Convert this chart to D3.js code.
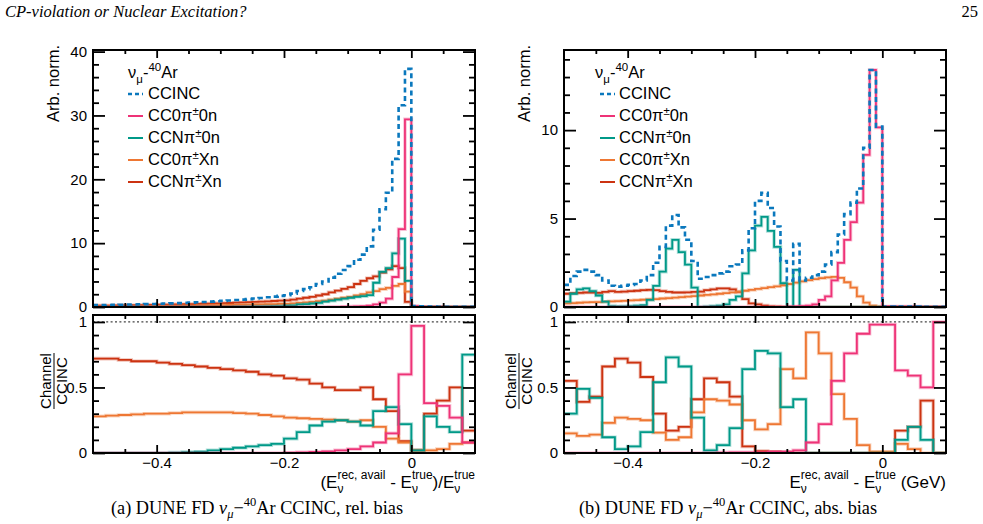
<!DOCTYPE html>
<html><head><meta charset="utf-8">
<script src="https://cdn.jsdelivr.net/npm/d3@7"></script>
<style>body{margin:0;background:#fff}svg{display:block}text{white-space:pre}</style>
</head><body>
<svg id="c" width="983" height="524"></svg>
<script>
// ---------------- DATA ----------------
// Top panels: 60 bins of width 0.01 from -0.5 to 0.1
const relCCINC = [0.30,0.31,0.32,0.34,0.36,0.38,0.40,0.42,0.45,0.48, 0.51,0.54,0.57,0.61,0.65,0.69,0.74,0.79,0.84,0.90, 0.96,1.02,1.09,1.16,1.24,1.33,1.42,1.52,1.63,1.75, 1.85,2.1,2.5,2.8,3.1,3.6,4.0,4.6,5.2,5.8, 6.4,7.4,8.2,9.5,12.1,15.3,17.9,23.2,31.6,37.3, 0.15,0.1,0.08,0.06,0.05,0.04,0.04,0.03,0.03,0.03];
const relCC0pi0n = [0,0,0,0,0,0,0,0,0,0, 0,0,0,0,0,0,0,0,0,0, 0,0,0,0,0,0,0,0,0,0, 0,0,0,0,0,0,0.01,0.02,0.03,0.05, 0.07,0.1,0.12,0.2,0.4,0.7,1.3,4.7,12.2,29.4, 0.14,0.04,0.03,0.02,0.015,0.01,0.01,0.01,0.005,0.003];
const relCCNpi0n = [0,0,0,0,0,0,0,0,0.003,0.004, 0.005,0.007,0.009,0.011,0.013,0.015,0.018,0.021,0.025,0.028, 0.03,0.035,0.045,0.05,0.065,0.075,0.09,0.1,0.12,0.14, 0.2,0.24,0.4,0.45,0.55,0.65,0.85,1.0,1.15,1.3, 1.45,1.6,1.7,1.85,3.8,5.5,6.1,8.4,10.7,4.1, 0.003,0.002,0.01,0.01,0.008,0.006,0.005,0.004,0.02,0.02];
const relCC0piXn = [0.085,0.088,0.092,0.098,0.105,0.11,0.12,0.125,0.135,0.145, 0.158,0.167,0.177,0.19,0.2,0.214,0.228,0.244,0.26,0.277, 0.29,0.31,0.33,0.35,0.37,0.39,0.41,0.43,0.46,0.49, 0.5,0.56,0.66,0.73,0.8,0.92,1.0,1.15,1.3,1.45, 1.6,1.8,2.0,2.3,2.5,2.8,3.0,3.3,3.6,2.4, 0.003,0.003,0.002,0.002,0.002,0.002,0.002,0.002,0.002,0.002];
const relCCNpiXn = [0.22,0.22,0.23,0.24,0.25,0.27,0.28,0.29,0.31,0.33, 0.35,0.37,0.39,0.41,0.43,0.45,0.48,0.51,0.54,0.57, 0.60,0.63,0.67,0.71,0.75,0.79,0.84,0.89,0.94,1.0, 1.05,1.15,1.3,1.45,1.6,1.8,2.0,2.3,2.55,2.85, 3.1,3.6,4.1,4.5,4.8,5.4,5.9,6.4,6.1,0.8, 0.003,0.003,0.01,0.01,0.01,0.01,0.008,0.006,0.004,0.004];

const absCCINC = [1.25,1.75,2.0,2.1,2.0,1.8,1.5,1.2,1.15,1.2, 1.25,1.3,1.5,1.8,2.5,3.4,4.6,5.2,4.5,3.8, 2.6,1.6,1.7,1.8,1.9,2.0,2.3,2.4,3.2,4.45, 6.0,6.45,5.6,4.55,2.6,1.5,3.57,1.5,1.65,1.8, 2.0,2.4,3.1,4.1,5.25,5.9,6.7,9.0,13.4,10.2, 0.03,0.03,0.02,0.02,0.02,0.02,0.01,0.01,0.01,0.01];
const absCC0pi0n = [0,0,0,0,0,0,0,0,0,0, 0,0,0,0,0,0,0,0,0,0, 0,0,0,0,0,0,0,0,0,0, 0,0,0,0,0.01,0.02,0.03,0.05,0.08,0.15, 0.4,0.6,1.5,2.5,3.8,4.8,5.9,8.6,13.4,10.15, 0.03,0.03,0.02,0.02,0.02,0.02,0.01,0.01,0.01,0.01];
const absCCNpi0n = [0.3,0.75,1.0,1.05,0.9,0.65,0.3,0.05,0.03,0.04, 0.05,0.08,0.1,0.4,1.2,2.0,3.3,3.8,3.1,2.4, 1.1,0,0.02,0.05,0.08,0.15,0.4,0.6,1.9,3.2, 4.6,5.1,4.3,3.4,1.35,0,2.1,0,0,0, 0,0,0,0,0,0,0,0,0,0, 0,0,0,0,0,0,0,0,0,0];
const absCC0piXn = [0.2,0.22,0.24,0.26,0.27,0.28,0.3,0.32,0.33,0.35, 0.37,0.39,0.41,0.43,0.45,0.48,0.5,0.53,0.56,0.59, 0.62,0.65,0.68,0.71,0.75,0.79,0.83,0.87,0.92,0.97, 1.02,1.07,1.12,1.17,1.23,1.3,1.38,1.45,1.52,1.58, 1.63,1.67,1.7,1.65,1.4,1.1,0.6,0.25,0.07,0.02, 0,0,0,0,0,0,0,0,0,0];
const absCCNpiXn = [0.75,0.78,0.8,0.82,0.82,0.8,0.85,0.9,0.85,0.87, 0.9,0.92,0.95,0.97,0.95,0.9,0.85,0.82,0.82,0.83, 0.85,0.87,0.95,1.0,1.05,1.05,1.0,0.85,0.45,0.2, 0.15,0.08,0.04,0.02,0.01,0.01,0,0,0,0, 0,0,0,0,0,0,0,0,0,0, 0,0,0,0,0,0,0,0,0,0];

// Ratio panels: 30 bins of width 0.02 from -0.5 to 0.1
const relRatioCC0pi0n = [0,0,0,0,0,0,0,0,0,0, 0,0,0,0,0,0.002,0.005,0.008,0.012,0.02, 0.03,0.05,0.08,0.15,0.6,0.97,0.38,0.36,0.27,0.08];
const relRatioCCNpi0n = [0,0,0,0,0,0,0.003,0.007,0.01,0.02, 0.03,0.04,0.05,0.06,0.07,0.11,0.16,0.21,0.24,0.25, 0.24,0.21,0.32,0.35,0.22,0.02,0.28,0.2,0.16,0.75];
const relRatioCC0piXn = [0.28,0.285,0.29,0.295,0.30,0.30,0.305,0.31,0.31,0.31, 0.31,0.305,0.30,0.29,0.28,0.27,0.265,0.26,0.255,0.25, 0.24,0.25,0.2,0.11,0.08,0.02,0.02,0.03,0.07,0.08];
const relRatioCCNpiXn = [0.72,0.72,0.71,0.70,0.70,0.69,0.68,0.67,0.66,0.65, 0.64,0.63,0.62,0.60,0.59,0.57,0.56,0.53,0.50,0.48, 0.48,0.50,0.41,0.32,0.09,0.02,0.30,0.40,0.50,0.17];

const absRatioCC0pi0n = [0,0,0,0,0,0,0,0,0,0, 0,0,0.003,0.005,0.005,0.005,0.01,0.01,0.02,0.08, 0.22,0.55,0.76,0.91,0.98,0.98,0.63,0.59,0.5,1.0];
const absRatioCCNpi0n = [0.30,0.49,0.42,0.12,0.03,0.05,0.16,0.54,0.73,0.66, 0.27,0.02,0.06,0.19,0.64,0.78,0.76,0.35,0.41,0, 0,0,0,0,0,0,0.1,0.2,0.1,0];
const absRatioCC0piXn = [0.15,0.13,0.14,0.23,0.27,0.26,0.25,0.155,0.10,0.12, 0.31,0.41,0.40,0.37,0.25,0.18,0.22,0.64,0.57,0.92, 0.76,0.45,0.26,0.06,0.01,0.01,0.07,0.03,0,0];
const absRatioCCNpiXn = [0.55,0.39,0.43,0.66,0.72,0.69,0.58,0.30,0.17,0.20, 0.41,0.57,0.54,0.43,0.05,0.015,0.01,0.005,0,0, 0,0,0,0,0,0,0.17,0.2,0.4,0];

const xTicksMajor = [-0.4, -0.2, 0];
const topTicksRel = [0, 10, 20, 30, 40];
const topTicksAbs = [0, 5, 10];
const ratioTicks = [0, 0.5, 1];
const legendLabels = [["CCINC"], ["CC0π","±","0n"], ["CCNπ","±","0n"], ["CC0π","±","Xn"], ["CCNπ","±","Xn"]];

// ---------------- DRAWING ----------------
const SANS = "'Liberation Sans', Arial, Helvetica, sans-serif";
const SERIF = "'Liberation Serif', 'Times New Roman', serif";
const svg = d3.select("#c");
svg.append("rect").attr("width",983).attr("height",524).attr("fill","#fff");

const series = [
  {key:"CCNpiXn", color:"#CC3311"},
  {key:"CC0piXn", color:"#EE7733"},
  {key:"CCNpi0n", color:"#009988"},
  {key:"CC0pi0n", color:"#EE3377"},
  {key:"CCINC",   color:"#0a78bd", dash:"5,3.6"}
];
const legendOrder = [
  {key:"CCINC", color:"#0a78bd", dash:"4,3"},
  {key:"CC0pi0n", color:"#EE3377"},
  {key:"CCNpi0n", color:"#009988"},
  {key:"CC0piXn", color:"#EE7733"},
  {key:"CCNpiXn", color:"#CC3311"}
];

function rich(parent, x, y, segs, o) {
  o = Object.assign({size:16, small:11, family:SANS, anchor:"start", supDy:-8, subDy:5}, o||{});
  const g = parent.append("g");
  let cx = 0;
  const put = (t, dx, dy, sz, it) => {
    const el = g.append("text").attr("x", dx).attr("y", dy).attr("font-size", sz)
      .attr("font-family", o.family).attr("fill", "#000").attr("font-style", it ? "italic" : null).text(t);
    return el.node().getComputedTextLength();
  };
  segs.forEach(s => {
    if (typeof s === "string") s = {t:s};
    if (s.stack) {
      const w1 = put(s.stack[0], cx, o.subDy, o.small, s.italic);
      const w2 = put(s.stack[1], cx, o.supDy, o.small, false);
      cx += Math.max(w1, w2);
    } else {
      const sz = s.k ? o.small : o.size;
      const dy = s.k === "sup" ? o.supDy : s.k === "sub" ? o.subDy : 0;
      cx += put(s.t, cx, dy, sz, s.italic);
    }
  });
  const shift = o.anchor === "end" ? -cx : o.anchor === "middle" ? -cx / 2 : 0;
  g.attr("transform", `translate(${x + shift},${y})`);
  return g;
}

const panels = [
  {x0:93, x1:475, topMax:40.25, topTicks:topTicksRel, topMinor:d3.range(0, 40.01, 2),
   top:{CCINC:relCCINC, CC0pi0n:relCC0pi0n, CCNpi0n:relCCNpi0n, CC0piXn:relCC0piXn, CCNpiXn:relCCNpiXn},
   ratio:{CC0pi0n:relRatioCC0pi0n, CCNpi0n:relRatioCCNpi0n, CC0piXn:relRatioCC0piXn, CCNpiXn:relRatioCCNpiXn},
   ylabX:59, chX:54, legX:128, legHX:128, legTX:148,
   xtitle:["(E", {stack:["ν","rec, avail"]}, " - E", {stack:["ν","true"]}, ")/E", {stack:["ν","true"]}],
   caption:["(a) DUNE FD ", {t:"ν", italic:true}, {t:"μ", k:"sub", italic:true}, "−", {t:"40", k:"sup"}, "Ar CCINC, rel. bias"],
   capX:257},
  {x0:564, x1:946, topMax:14.53, topTicks:topTicksAbs, topMinor:d3.range(0, 14.01, 1),
   top:{CCINC:absCCINC, CC0pi0n:absCC0pi0n, CCNpi0n:absCCNpi0n, CC0piXn:absCC0piXn, CCNpiXn:absCCNpiXn},
   ratio:{CC0pi0n:absRatioCC0pi0n, CCNpi0n:absRatioCCNpi0n, CC0piXn:absRatioCC0piXn, CCNpiXn:absRatioCCNpiXn},
   ylabX:530, chX:519, legX:600, legHX:595, legTX:619,
   xtitle:["E", {stack:["ν","rec, avail"]}, " - E", {stack:["ν","true"]}, " (GeV)"],
   caption:["(b) DUNE FD ", {t:"ν", italic:true}, {t:"μ", k:"sub", italic:true}, "−", {t:"40", k:"sup"}, "Ar CCINC, abs. bias"],
   capX:728}
];

const TOP0 = 50, TOP1 = 307, BOT0 = 315, BOT1 = 453, RMAX = 1.053;

function histPath(x, y, vals, lo, w) {
  const pts = vals.map((v, i) => [lo + i * w, v]);
  pts.push([lo + vals.length * w, vals[vals.length - 1]]);
  return d3.line().x(d => x(d[0])).y(d => y(d[1])).curve(d3.curveStepAfter)(pts);
}

function styleTicks(sel) {
  sel.select(".domain").remove();
  sel.selectAll(".tick line").attr("stroke", "#000").attr("stroke-width", 1.8);
  sel.selectAll(".tick text").attr("font-family", SANS).attr("font-size", 15).attr("fill", "#000");
}

panels.forEach((P, pi) => {
  const g = svg.append("g");
  const x = d3.scaleLinear().domain([-0.5, 0.1]).range([P.x0, P.x1]);
  const yT = d3.scaleLinear().domain([0, P.topMax]).range([TOP1, TOP0]);
  const yB = d3.scaleLinear().domain([0, RMAX]).range([BOT1, BOT0]);

  const defs = g.append("defs");
  defs.append("clipPath").attr("id", "ct" + pi).append("rect").attr("x", P.x0).attr("y", TOP0).attr("width", P.x1 - P.x0).attr("height", TOP1 - TOP0 + 1);
  defs.append("clipPath").attr("id", "cb" + pi).append("rect").attr("x", P.x0).attr("y", BOT0).attr("width", P.x1 - P.x0).attr("height", BOT1 - BOT0 + 1);

  // dotted unity line
  g.append("line").attr("x1", P.x0).attr("x2", P.x1).attr("y1", yB(1)).attr("y2", yB(1))
    .attr("stroke", "#444").attr("stroke-width", 1.3).attr("stroke-dasharray", "2,2.4");

  const gt = g.append("g").attr("clip-path", `url(#ct${pi})`);
  const gb = g.append("g").attr("clip-path", `url(#cb${pi})`);
  series.forEach(s => {
    const dT = histPath(x, yT, P.top[s.key], -0.5, 0.01);
    if (!s.dash) gt.append("path").attr("d", dT).attr("fill", "none").attr("stroke", s.color).attr("stroke-opacity", 0.3).attr("stroke-width", 3.6);
    gt.append("path").attr("d", dT).attr("fill", "none").attr("stroke", s.color)
      .attr("stroke-width", s.dash ? 2.6 : 1.8).attr("stroke-dasharray", s.dash || null);
    if (P.ratio[s.key]) {
      const dB = histPath(x, yB, P.ratio[s.key], -0.5, 0.02);
      gb.append("path").attr("d", dB).attr("fill", "none").attr("stroke", s.color).attr("stroke-opacity", 0.3).attr("stroke-width", 3.6);
      gb.append("path").attr("d", dB).attr("fill", "none").attr("stroke", s.color).attr("stroke-width", 1.8);
    }
  });

  // frames
  [[TOP0, TOP1], [BOT0, BOT1]].forEach(([a, b]) => {
    g.append("rect").attr("x", P.x0).attr("y", a).attr("width", P.x1 - P.x0).attr("height", b - a)
      .attr("fill", "none").attr("stroke", "#000").attr("stroke-width", 2);
  });

  const xMinor = d3.range(-0.45, 0.1, 0.05).filter(v => !xTicksMajor.some(m => Math.abs(m - v) < 1e-6));
  // top panel axes
  styleTicks(g.append("g").attr("transform", `translate(${P.x0},0)`).call(d3.axisLeft(yT).tickValues(P.topTicks).tickSizeInner(-12).tickSizeOuter(0).tickPadding(6).tickFormat(d3.format("d"))));
  styleTicks(g.append("g").attr("transform", `translate(${P.x0},0)`).call(d3.axisLeft(yT).tickValues(P.topMinor.filter(v => !P.topTicks.includes(v))).tickSizeInner(-6).tickSizeOuter(0).tickFormat("")));
  styleTicks(g.append("g").attr("transform", `translate(${P.x1},0)`).call(d3.axisRight(yT).tickValues(P.topTicks).tickSizeInner(-12).tickSizeOuter(0).tickFormat("")));
  styleTicks(g.append("g").attr("transform", `translate(${P.x1},0)`).call(d3.axisRight(yT).tickValues(P.topMinor.filter(v => !P.topTicks.includes(v))).tickSizeInner(-6).tickSizeOuter(0).tickFormat("")));
  [[TOP1, "b"], [TOP0, "t"], [BOT1, "b"], [BOT0, "t"]].forEach(([yy, side]) => {
    const ax = side === "b" ? d3.axisBottom(x) : d3.axisTop(x);
    const isBotLab = yy === BOT1;
    styleTicks(g.append("g").attr("transform", `translate(0,${yy})`).call(ax.tickValues(xTicksMajor).tickSizeInner(-8).tickSizeOuter(0).tickPadding(4)
      .tickFormat(isBotLab ? d3.format(".1~f") : "")));
    styleTicks(g.append("g").attr("transform", `translate(0,${yy})`).call((side === "b" ? d3.axisBottom(x) : d3.axisTop(x)).tickValues(xMinor).tickSizeInner(-4).tickSizeOuter(0).tickFormat("")));
  });
  // ratio y axes
  const rMinor = d3.range(0.1, 1.01, 0.1).filter(v => Math.abs(v - 0.5) > 1e-6 && Math.abs(v - 1) > 1e-6);
  styleTicks(g.append("g").attr("transform", `translate(${P.x0},0)`).call(d3.axisLeft(yB).tickValues(ratioTicks).tickSizeInner(-12).tickSizeOuter(0).tickPadding(6).tickFormat(d3.format("~g"))));
  styleTicks(g.append("g").attr("transform", `translate(${P.x0},0)`).call(d3.axisLeft(yB).tickValues(rMinor).tickSizeInner(-6).tickSizeOuter(0).tickFormat("")));
  styleTicks(g.append("g").attr("transform", `translate(${P.x1},0)`).call(d3.axisRight(yB).tickValues(ratioTicks).tickSizeInner(-12).tickSizeOuter(0).tickFormat("")));
  styleTicks(g.append("g").attr("transform", `translate(${P.x1},0)`).call(d3.axisRight(yB).tickValues(rMinor).tickSizeInner(-6).tickSizeOuter(0).tickFormat("")));

  // y title
  g.append("text").attr("transform", `translate(${P.ylabX},45) rotate(-90)`).attr("text-anchor", "end")
    .attr("font-family", SANS).attr("font-size", 16.5).text("Arb. norm.");
  // ratio title (fraction)
  const fr = g.append("g").attr("transform", `translate(${P.chX},381) rotate(-90)`);
  fr.append("text").attr("x", 0).attr("y", -3).attr("text-anchor", "middle").attr("font-family", SANS).attr("font-size", 15).text("Channel");
  fr.append("line").attr("x1", -28).attr("x2", 28).attr("y1", 0).attr("y2", 0).attr("stroke", "#000").attr("stroke-width", 1);
  fr.append("text").attr("x", 0).attr("y", 13).attr("text-anchor", "middle").attr("font-family", SANS).attr("font-size", 15).text("CCINC");

  // x title
  rich(g, P.x1, 488, P.xtitle, {anchor:"end", size:17, small:12, supDy:-9.5, subDy:5});
  // caption
  rich(g, P.capX, 514, P.caption, {anchor:"middle", family:SERIF, size:18.3, small:12.5, supDy:-8, subDy:4});

  // legend
  rich(g, P.legHX, 78, [{t:"ν"}, {t:"μ", k:"sub"}, "-", {t:"40", k:"sup"}, "Ar"], {size:16.5, small:11.5, supDy:-7, subDy:5});
  legendOrder.forEach((s, i) => {
    const yy = 99 + 22 * i;
    g.append("line").attr("x1", P.legX).attr("x2", P.legX + 15).attr("y1", yy - 5).attr("y2", yy - 5)
      .attr("stroke", s.color).attr("stroke-width", s.dash ? 2.4 : 2).attr("stroke-dasharray", s.dash || null);
    const lab = legendLabels[i];
    const segs = lab.length === 1 ? [lab[0]] : [lab[0], {t:lab[1], k:"sup"}, lab[2]];
    rich(g, P.legTX, yy, segs, {size:16.5, small:11.5, supDy:-6});
  });
});

// page header
svg.append("text").attr("x", 5).attr("y", 17).attr("font-family", SERIF).attr("font-style", "italic").attr("font-size", 16.5).text("CP-violation or Nuclear Excitation?");
svg.append("text").attr("x", 978).attr("y", 17).attr("text-anchor", "end").attr("font-family", SERIF).attr("font-size", 16.5).text("25");
</script>
</body></html>
